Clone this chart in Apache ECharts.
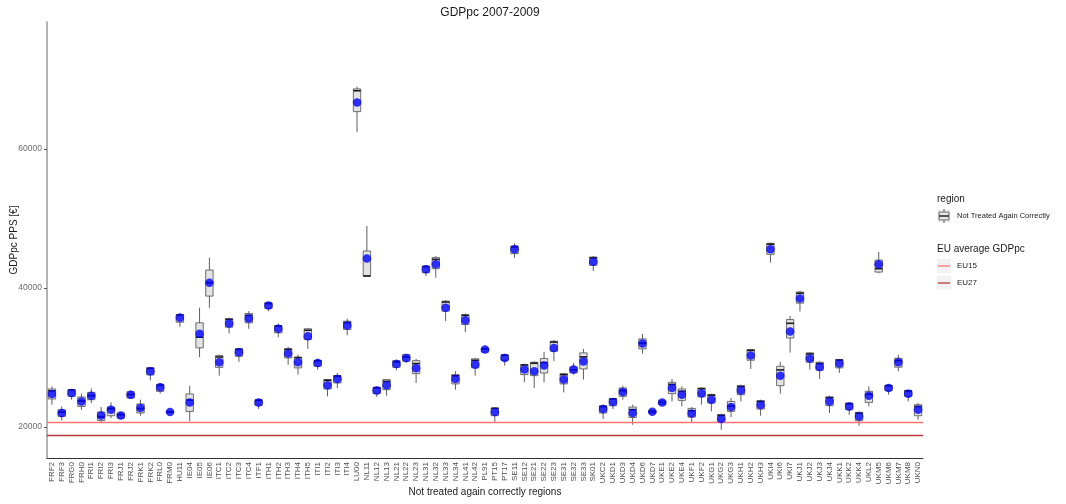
<!DOCTYPE html>
<html>
<head>
<meta charset="utf-8">
<script src="https://cdn.jsdelivr.net/npm/echarts@6/dist/echarts.min.js"></script>
<style>
html,body{margin:0;padding:0;background:#fff;}
#chart{width:1066px;height:504px;}
</style>
</head>
<body>
<div id="chart"></div>
<script>
const categories = ['FRF2','FRF3','FRG0','FRH0','FRI1','FRI2','FRI3','FRJ1','FRJ2','FRK1','FRK2','FRL0','FRM0','HU11','IE04','IE05','IE06','ITC1','ITC2','ITC3','ITC4','ITF1','ITH1','ITH2','ITH3','ITH4','ITH5','ITI1','ITI2','ITI3','ITI4','LU00','NL11','NL12','NL13','NL21','NL22','NL23','NL31','NL32','NL33','NL34','NL41','NL42','PL91','PT15','PT17','SE11','SE12','SE21','SE22','SE23','SE31','SE32','SE33','SK01','UKC2','UKD1','UKD3','UKD4','UKD6','UKD7','UKE1','UKE2','UKE4','UKF1','UKF2','UKG1','UKG2','UKG3','UKH1','UKH2','UKH3','UKI4','UKI6','UKI7','UKJ1','UKJ2','UKJ3','UKJ4','UKK1','UKK2','UKK4','UKL2','UKM5','UKM6','UKM7','UKM8','UKN0'];

const whiskerLow = [23180,20910,23900,22450,23420,20620,21250,21110,24000,21590,26690,24770,21880,34400,20770,30010,37140,27360,33430,29340,34110,22560,36650,32900,28950,27510,31220,28230,24380,25590,33180,62410,41710,24290,24480,28130,29200,26310,41710,41470,35210,25340,33620,27360,30730,20620,28810,44360,26400,25590,26400,29430,24950,27510,26790,42430,21110,22550,23900,20290,30540,21880,23130,23650,22930,20620,23180,22210,19570,21400,23650,28330,21590,43640,24770,30680,36600,28230,26890,21980,27750,21730,20140,22930,42090,24620,27990,23650,21010];
const boxLow = [24000,21490,24380,22930,23900,20910,21590,21250,24140,21980,27460,25100,22000,35060,22210,31360,38820,28560,34340,30150,34970,23080,37040,33530,29920,28480,32560,28710,25440,26310,34010,65390,41710,24770,25340,28560,29430,27650,42190,42770,36650,26170,34730,28480,30750,21590,29570,44940,27510,27360,27750,30870,26170,27750,28330,43250,21980,23030,24380,21340,31220,21950,23200,24770,23800,21400,24290,23420,20620,22210,24620,29580,22550,44830,25920,32790,37800,29290,28130,23030,28480,22450,20870,23510,42280,25200,28580,24380,21590];
const medians = [25160,22100,25270,23730,24490,21430,22590,21710,24660,22610,28400,25960,22120,36100,23840,32900,40750,30050,35480,31150,36040,23800,37750,34500,31160,29960,33900,29500,26700,27300,35010,68400,41710,25610,26540,29340,30060,29100,43050,44110,37970,27340,36050,29570,31200,22650,30300,45900,28900,29150,29240,32190,27500,28200,30060,44320,22900,23990,25210,22470,32050,22170,23510,26100,25110,22300,25500,24550,21650,22980,25800,31000,23650,46300,28190,34900,39240,30490,29100,24200,29600,23300,21950,24690,42770,25900,29530,25150,22920];
const boxHigh = [25440,22450,25340,24290,24950,22120,22840,21980,25050,23280,28500,26110,22250,36170,24720,34970,42570,30250,35550,31220,36320,23900,37860,34580,31220,30010,34110,29570,26790,27360,35210,68660,45320,25680,26790,29530,30400,29530,43150,44360,38090,27510,36130,29780,31340,22700,30350,46040,28950,29290,29820,32320,27650,28620,30640,44450,23030,24040,25590,22840,32660,22380,23800,26400,25440,22650,25540,24650,21730,23650,25920,31120,23750,46420,28710,35440,39400,30640,29290,24290,29680,23420,22070,25110,44010,25970,29870,25240,23180];
const whiskerHigh = [25820,22930,25440,24770,25530,22840,23510,22070,25200,23900,28620,26310,22360,36420,25920,37140,44360,30400,35700,31360,36650,24000,38010,34870,31510,30400,34250,29780,26890,27750,35550,69000,48920,25820,26890,29680,30500,29780,43250,44590,38240,27990,36320,29920,31360,22840,30500,46420,29100,29430,30790,32460,27750,29200,31220,44590,23180,24140,25920,23180,33380,22450,23900,26890,25820,22840,25680,24770,21880,24140,26070,31220,23900,46520,29340,35960,39600,30740,29430,24480,29770,23510,22210,25820,45170,26070,30350,25340,23420];
const means = [24720,21980,24870,23650,24480,21630,22450,21630,24620,22700,27990,25680,22120,35700,23510,33390,40750,29290,34870,30730,35600,23510,37470,34110,30540,29290,33040,29200,25970,26890,34580,66720,44220,25240,25970,29050,29920,28420,42670,43390,37140,26890,35350,28950,31120,22120,29920,45560,28230,27990,28810,31360,26790,28230,29390,43780,22550,23560,25010,21980,31990,22170,23510,25590,24620,21920,24810,23900,21110,22840,25240,30250,23130,45560,27360,33720,38480,29820,28620,23650,29100,22930,21490,24480,43390,25590,29290,24770,22450];

const euNames = ['EU15','EU27'];
const euValues = [20680, 18800];
const euColors = ['#ff7373','#b8383b'];
const yTickValues = [20000, 40000, 60000];

const boxData = categories.map((c, i) => [i, whiskerLow[i], boxLow[i], medians[i], boxHigh[i], whiskerHigh[i]]);
const meanData = categories.map((c, i) => [i, means[i]]);

const chart = echarts.init(document.getElementById('chart'));
const FONT = '"Liberation Sans", Arial, sans-serif';

function renderBox(params, api) {
  const x = api.value(0);
  const pMin = api.coord([x, api.value(1)]);
  const pQ1 = api.coord([x, api.value(2)]);
  const pMed = api.coord([x, api.value(3)]);
  const pQ3 = api.coord([x, api.value(4)]);
  const pMax = api.coord([x, api.value(5)]);
  const w = api.size([1, 0])[0] * 0.75;
  const cx = pQ1[0];
  const stroke = '#5e5e5e';
  return {
    type: 'group',
    children: [
      { type: 'line', shape: { x1: cx, y1: pMin[1], x2: cx, y2: pQ1[1] }, style: { stroke: stroke, lineWidth: 1 } },
      { type: 'line', shape: { x1: cx, y1: pQ3[1], x2: cx, y2: pMax[1] }, style: { stroke: stroke, lineWidth: 1 } },
      { type: 'rect', shape: { x: cx - w / 2, y: pQ3[1], width: w, height: Math.max(pQ1[1] - pQ3[1], 0.5) }, style: { fill: '#e3e3e3', stroke: stroke, lineWidth: 0.9 } },
      { type: 'line', shape: { x1: cx - w / 2, y1: pMed[1], x2: cx + w / 2, y2: pMed[1] }, style: { stroke: '#1a1a1a', lineWidth: 1.6 } }
    ]
  };
}

const lx = 937;
const option = {
  animation: false,
  backgroundColor: '#ffffff',
  textStyle: { fontFamily: FONT },
  title: {
    text: 'GDPpc 2007-2009',
    left: 485, top: 2, textAlign: 'center', padding: [5, 5],
    textStyle: { fontSize: 12, fontWeight: 'normal', color: '#1a1a1a', fontFamily: FONT }
  },
  grid: { left: 47, right: 143, top: 22, bottom: 46, containLabel: false, outerBoundsMode: 'none' },
  xAxis: {
    type: 'category',
    data: categories,
    boundaryGap: true,
    name: 'Not treated again correctly regions',
    nameLocation: 'middle',
    nameGap: 29,
    nameMoveOverlap: false,
    nameTextStyle: { fontSize: 10, color: '#1a1a1a', fontFamily: FONT },
    axisLine: { lineStyle: { color: '#333333', width: 1 } },
    axisTick: { alignWithLabel: true, length: 3, lineStyle: { color: '#333333' } },
    axisLabel: { rotate: 90, interval: 0, fontSize: 8, color: '#4d4d4d', margin: 4, fontFamily: FONT },
    splitLine: { show: false }
  },
  yAxis: {
    type: 'value',
    min: 15500, max: 78300,
    name: 'GDPpc PPS [€]',
    nameLocation: 'middle',
    nameGap: 28,
    nameMoveOverlap: false,
    nameRotate: 90,
    nameTextStyle: { fontSize: 10, color: '#1a1a1a', fontFamily: FONT },
    axisLine: { show: true, lineStyle: { color: '#9a9a9a', width: 1.5 } },
    axisTick: { show: true, length: 3, customValues: yTickValues, lineStyle: { color: '#555' } },
    axisLabel: { customValues: yTickValues, fontSize: 8.5, color: '#6b6b6b', margin: 5, fontFamily: FONT, formatter: v => String(v) },
    splitLine: { show: false }
  },
  series: [
    {
      name: 'EU average',
      type: 'line',
      data: [],
      silent: true,
      markLine: {
        symbol: ['none', 'none'],
        silent: true,
        label: { show: false },
        data: euNames.map((n, i) => ({ name: n, yAxis: euValues[i], lineStyle: { color: euColors[i], width: 1.3, type: 'solid' } }))
      }
    },
    {
      name: 'Not Treated Again Correctly',
      type: 'custom',
      renderItem: renderBox,
      data: boxData,
      encode: { x: 0, y: [1, 2, 3, 4, 5] },
      z: 3
    },
    {
      name: 'mean',
      type: 'scatter',
      data: meanData,
      symbol: 'circle',
      symbolSize: 8.5,
      itemStyle: { color: '#0000ff' },
      z: 5
    }
  ],
  graphic: [
    { type: 'text', left: lx, top: 194, style: { text: 'region', fontSize: 10, fill: '#1a1a1a', fontFamily: FONT } },
    { type: 'rect', left: lx, top: 209, shape: { width: 14, height: 14 }, style: { fill: '#f2f2f2' } },
    { type: 'line', shape: { x1: lx + 7, y1: 209, x2: lx + 7, y2: 223 }, style: { stroke: '#5e5e5e', lineWidth: 1 } },
    { type: 'rect', shape: { x: lx + 2, y: 212, width: 10, height: 8 }, style: { fill: '#e3e3e3', stroke: '#5e5e5e', lineWidth: 0.9 } },
    { type: 'line', shape: { x1: lx + 2, y1: 216, x2: lx + 12, y2: 216 }, style: { stroke: '#1a1a1a', lineWidth: 1.4 } },
    { type: 'text', left: lx + 20, top: 212, style: { text: 'Not Treated Again Correctly', fontSize: 7.5, fill: '#1a1a1a', fontFamily: FONT } },
    { type: 'text', left: lx, top: 244, style: { text: 'EU average GDPpc', fontSize: 10, fill: '#1a1a1a', fontFamily: FONT } },
    { type: 'rect', left: lx, top: 259, shape: { width: 14, height: 14 }, style: { fill: '#f2f2f2' } },
    { type: 'line', shape: { x1: lx + 1, y1: 266, x2: lx + 13, y2: 266 }, style: { stroke: euColors[0], lineWidth: 1.3 } },
    { type: 'text', left: lx + 20, top: 262, style: { text: euNames[0], fontSize: 8, fill: '#1a1a1a', fontFamily: FONT } },
    { type: 'rect', left: lx, top: 276, shape: { width: 14, height: 14 }, style: { fill: '#f2f2f2' } },
    { type: 'line', shape: { x1: lx + 1, y1: 283, x2: lx + 13, y2: 283 }, style: { stroke: euColors[1], lineWidth: 1.3 } },
    { type: 'text', left: lx + 20, top: 279, style: { text: euNames[1], fontSize: 8, fill: '#1a1a1a', fontFamily: FONT } }
  ]
};
chart.setOption(option);
</script>
</body>
</html>
